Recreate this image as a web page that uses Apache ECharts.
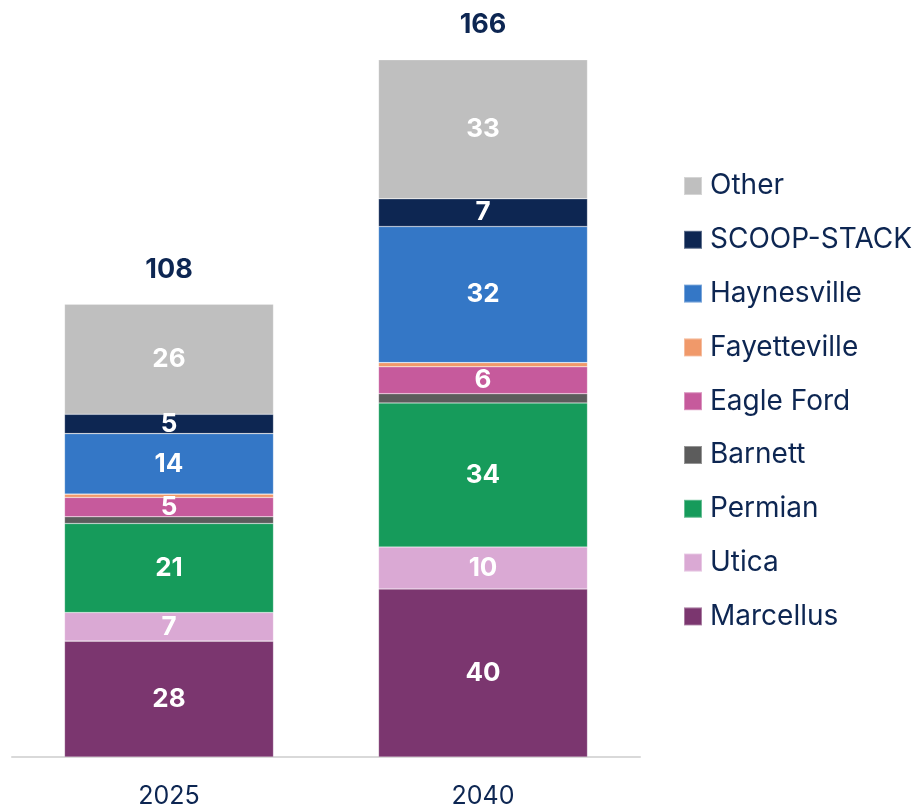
<!DOCTYPE html>
<html>
<head>
<meta charset="utf-8">
<script src="https://cdn.jsdelivr.net/npm/echarts@6/dist/echarts.min.js"></script>
<style>
html,body{margin:0;padding:0;background:#fff;}
#chart{width:917px;height:810px;}
</style>
</head>
<body>
<div id="chart"></div>
<script>
const categories = ['2025', '2040'];
const seriesNames = ['Marcellus', 'Utica', 'Permian', 'Barnett', 'Eagle Ford', 'Fayetteville', 'Haynesville', 'SCOOP-STACK', 'Other'];
const marcellus = [27.6, 40.0];
const utica = [6.8, 10.0];
const permian = [21.2, 34.3];
const barnett = [1.6, 2.2];
const eagleFord = [4.6, 6.4];
const fayetteville = [0.8, 1.0];
const haynesville = [14.4, 32.4];
const scoopStack = [4.6, 6.6];
const other = [26.2, 33.1];
const seriesColors = ['#7b366f', '#daa9d4', '#169b5b', '#5c5c5c', '#c65a9c', '#f0996a', '#3477c6', '#0d2652', '#bfbfbf'];
const showValueLabel = [true, true, true, false, true, false, true, true, true];

const seriesData = [marcellus, utica, permian, barnett, eagleFord, fayetteville, haynesville, scoopStack, other];
const totals = categories.map((c, i) => Math.round(seriesData.reduce((s, arr) => s + arr[i], 0)));

const FONT = 'Inter';
const NAVY = '#0d2652';

const chart = echarts.init(document.getElementById('chart'), null, {renderer: 'canvas'});

const series = seriesNames.map((name, k) => ({
  name: name,
  type: 'bar',
  stack: 'total',
  barWidth: 209,
  data: seriesData[k],
  itemStyle: {color: seriesColors[k], borderColor: 'rgba(255,255,255,0.35)', borderWidth: 0.6},
  label: {
    show: showValueLabel[k],
    position: 'inside',
    color: '#ffffff',
    fontFamily: FONT,
    fontWeight: 'bold',
    fontSize: 26,
    formatter: p => String(Math.round(p.value))
  },
  emphasis: {disabled: true}
}));

series.push({
  name: 'Total',
  type: 'bar',
  stack: 'total',
  barWidth: 209,
  data: categories.map(() => 0),
  itemStyle: {color: 'rgba(0,0,0,0)'},
  label: {
    show: true,
    position: 'top',
    distance: 21,
    color: NAVY,
    fontFamily: FONT,
    fontWeight: 'bold',
    fontSize: 27,
    formatter: p => String(totals[p.dataIndex])
  },
  silent: true,
  emphasis: {disabled: true}
});

chart.setOption({
  animation: false,
  backgroundColor: '#ffffff',
  grid: {left: 12, width: 628, top: 1, bottom: 53, containLabel: false},
  xAxis: {
    type: 'category',
    data: categories,
    axisLine: {show: true, lineStyle: {color: '#d9d9d9', width: 2}},
    axisTick: {show: false},
    axisLabel: {color: NAVY, fontFamily: FONT, fontSize: 25, margin: 27}
  },
  yAxis: {
    type: 'value',
    min: 0,
    max: 180,
    show: false,
    splitLine: {show: false}
  },
  legend: {
    orient: 'vertical',
    left: 678,
    top: 167,
    itemWidth: 18,
    itemHeight: 18,
    itemGap: 25.8,
    icon: 'rect',
    data: seriesNames.slice().reverse(),
    textStyle: {color: NAVY, fontFamily: FONT, fontSize: 28, lineHeight: 28, padding: [0, 0, 0, 3]},
    selectedMode: false
  },
  series: series
});
</script>
</body>
</html>
